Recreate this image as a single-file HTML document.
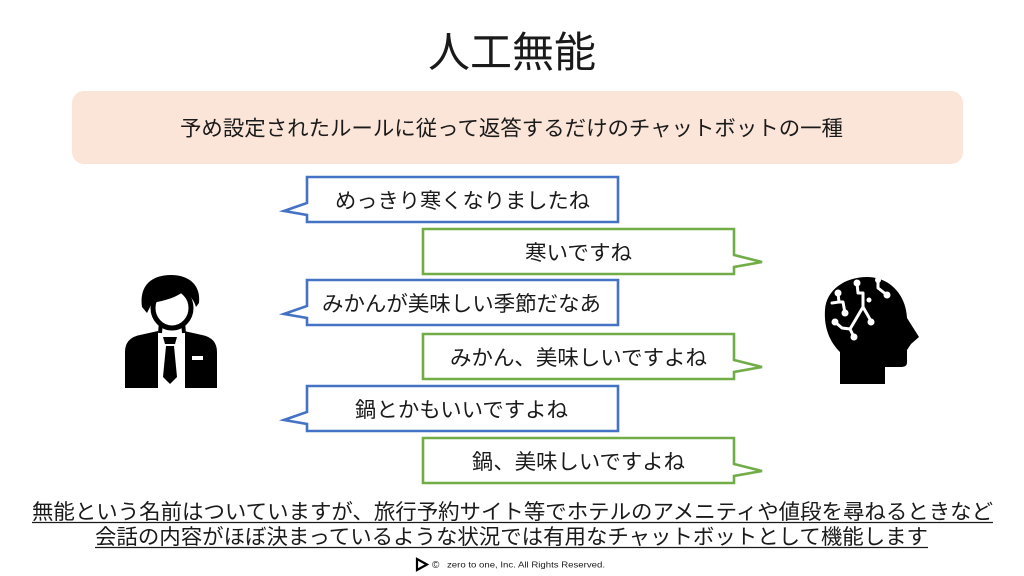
<!DOCTYPE html>
<html><head><meta charset="utf-8"><style>
html,body{margin:0;padding:0;background:#fff;}
svg{display:block;}
text{font-family:"Liberation Sans","Noto Sans CJK JP",sans-serif;fill:#1a1a1a;}
</style></head><body>
<svg width="1024" height="576" viewBox="0 0 1024 576" xmlns="http://www.w3.org/2000/svg">
<rect width="1024" height="576" fill="#fff"/>
<!-- title -->
<text x="512" y="67" font-size="42" text-anchor="middle" fill="#111">人工無能</text>
<!-- pink box -->
<rect x="72" y="91" width="891" height="73" rx="12" fill="#fbe5d9"/>
<text x="180" y="135.5" font-size="21" textLength="663" lengthAdjust="spacingAndGlyphs">予め設定されたルールに従って返答するだけのチャットボットの一種</text>

<!-- bubbles -->
<g fill="#fff" stroke-width="2.6" stroke-linejoin="miter">
<path stroke="#4472c4" d="M307,177 L618,177 L618,222 L307,222 L307,215 L284,211 L307,203 Z"/>
<path stroke="#70ad47" d="M423,229 L734,229 L734,255 L762,262 L734,267 L734,274 L423,274 Z"/>
<path stroke="#4472c4" d="M307,280 L618,280 L618,325 L307,325 L307,318 L284,314 L307,306 Z"/>
<path stroke="#70ad47" d="M423,334 L734,334 L734,360 L762,367 L734,372 L734,379 L423,379 Z"/>
<path stroke="#4472c4" d="M307,386 L618,386 L618,431 L307,431 L307,424 L284,420 L307,412 Z"/>
<path stroke="#70ad47" d="M423,438 L734,438 L734,464 L762,471 L734,476 L734,483 L423,483 Z"/>
</g>
<g font-size="21">
<text x="335" y="208" textLength="255" lengthAdjust="spacingAndGlyphs">めっきり寒くなりましたね</text>
<text x="525" y="260" textLength="107" lengthAdjust="spacingAndGlyphs">寒いですね</text>
<text x="322" y="311" textLength="279" lengthAdjust="spacingAndGlyphs">みかんが美味しい季節だなあ</text>
<text x="450" y="365" textLength="257" lengthAdjust="spacingAndGlyphs">みかん、美味しいですよね</text>
<text x="355" y="417" textLength="213" lengthAdjust="spacingAndGlyphs">鍋とかもいいですよね</text>
<text x="472" y="469" textLength="213" lengthAdjust="spacingAndGlyphs">鍋、美味しいですよね</text>
</g>

<!-- person icon -->
<g>
<path fill="#000" d="M125,388 L125,352 Q125,338 140,335 L158,331 L184,331 L202,335 Q217,338 217,352 L217,388 Z"/>
<rect x="158" y="331" width="27" height="57" fill="#fff"/>
<path fill="#000" d="M163,337 L177,337 L175,344 L165,344 Z"/>
<path fill="#000" d="M166,346 L174,346 L177,377 L170,384 L163,377 Z"/>
<rect x="192" y="356" width="11" height="4" fill="#fff"/>
<path fill="none" stroke="#000" stroke-width="4" d="M161,322 L160,333 M183,322 L184,333"/>
<ellipse cx="172" cy="308" rx="19" ry="20" fill="#fff" stroke="#000" stroke-width="5"/>
<path fill="#000" d="M142,307 C139,285 152,275 171,275 C190,275 201,286 199,303 L196,307 C194,300 190,296 184,291 C176,298 163,301 152,303 L147,313 Z"/>
</g>

<!-- AI head icon -->
<g>
<path fill="#000" d="M840,384 L840,352 C828,340 824,325 825,310 C826,290 845,277 867,277 C890,277 906,295 907,318 L919,337 L911,344 L907,350 L907,362 C907,366 905,367 900,367 L885,367 L885,384 Z"/>
<g stroke="#fff" stroke-width="3" fill="none" stroke-linecap="round" stroke-linejoin="round">
<path d="M857,283 L858,293 L863,293 L863,307 L871,321"/>
<path d="M863,307 L853,324 L850,329 L842,328 L835,322"/>
<path d="M850,329 L854,337"/>
<path d="M878,280 L878,288 L887,295"/>
<path d="M838,293 L839,302 L832,303 M839,302 L843,302 L845,313"/>
</g>
<g fill="#fff">
<circle cx="857" cy="283" r="3.5"/>
<circle cx="871" cy="322" r="3.5"/>
<circle cx="869" cy="300" r="2.5"/>
<circle cx="878" cy="280" r="3"/>
<circle cx="887" cy="295" r="3.5"/>
<circle cx="838" cy="293" r="3.5"/>
<circle cx="845" cy="313" r="3.5"/>
<circle cx="835" cy="322" r="3.5"/>
<circle cx="854" cy="337" r="3.5"/>
</g>
</g>

<!-- bottom text -->
<g font-size="21">
<text x="32" y="519" textLength="961" lengthAdjust="spacingAndGlyphs">無能という名前はついていますが、旅行予約サイト等でホテルのアメニティや値段を尋ねるときなど</text>
<text x="95" y="544" textLength="833" lengthAdjust="spacingAndGlyphs">会話の内容がほぼ決まっているような状況では有用なチャットボットとして機能します</text>
</g>
<line x1="32" y1="522.5" x2="993" y2="522.5" stroke="#1a1a1a" stroke-width="1.3"/>
<line x1="95" y1="547.5" x2="928" y2="547.5" stroke="#1a1a1a" stroke-width="1.3"/>

<!-- footer -->
<path d="M417,559 L417,570 L427,564.5 Z" fill="#fff" stroke="#000" stroke-width="2.2" stroke-linejoin="miter"/>
<text x="432" y="568" font-size="10" fill="#333">©</text>
<text x="447" y="567.5" font-size="8.5" fill="#333" textLength="158" lengthAdjust="spacingAndGlyphs">zero to one, Inc. All Rights Reserved.</text>
</svg>
</body></html>
